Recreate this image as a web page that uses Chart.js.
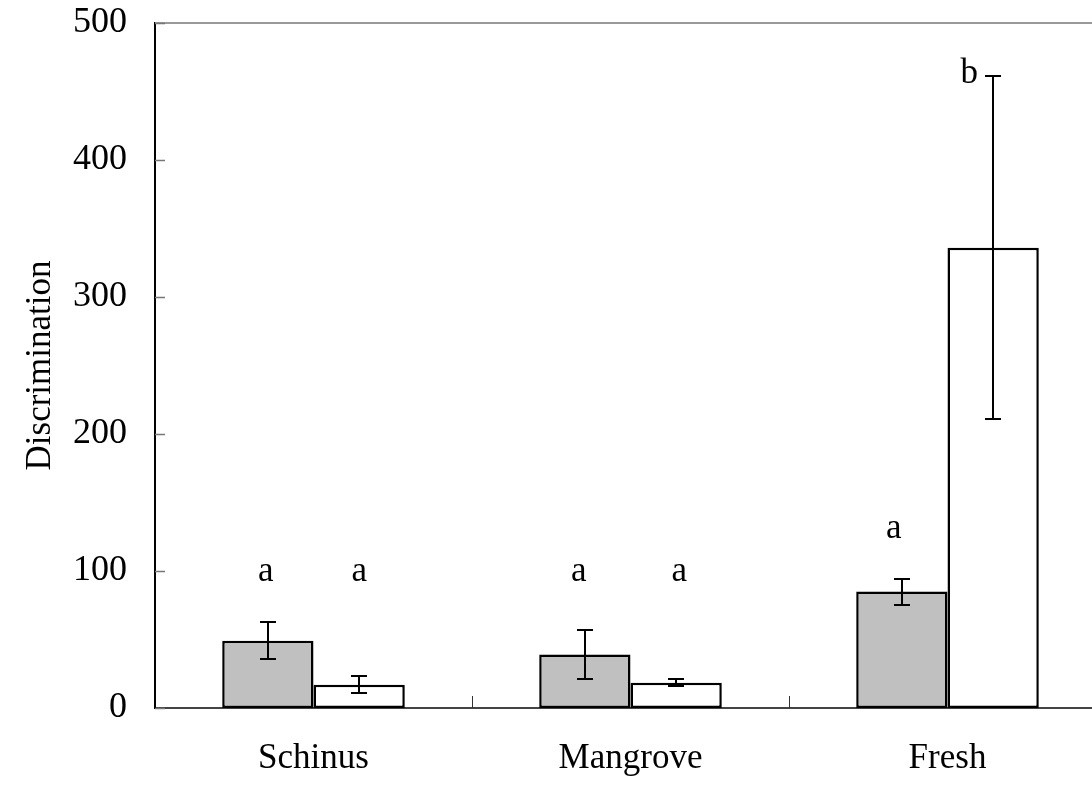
<!DOCTYPE html>
<html>
<head>
<meta charset="utf-8">
<script src="https://cdn.jsdelivr.net/npm/chart.js@4.4.0/dist/chart.umd.min.js"></script>
<style>
  html, body { margin: 0; padding: 0; background: #fff; overflow: hidden; }
  #wrap { width: 1110px; height: 786px; }
</style>
</head>
<body>
<div id="wrap"><canvas id="chart"></canvas></div>
<script>
// --- Data ---
const categories = ["Schinus", "Mangrove", "Fresh"];
const grayValues = [49, 39, 85];
const grayErrors = [13.5, 18, 9.5];
const whiteValues = [17, 18.5, 336];
const whiteErrors = [6, 2.5, 125];

// significance letters and the value level of their baseline
const grayLetters = ["a", "a", "a"];
const grayLetterY = [93, 93, 124];
const whiteLetters = ["a", "a", "b"];
const whiteLetterY = [93, 93, 456];

const yTicks = [0, 100, 200, 300, 400, 500];

const serif = "'Liberation Serif', 'Times New Roman', serif";

// --- Error bars, letters, frame ---
const extrasPlugin = {
  id: "extras",
  afterDatasetsDraw(chart) {
    const ctx = chart.ctx;
    const y = chart.scales.y;
    const x = chart.scales.x;
    const area = chart.chartArea;
    const errs = [grayErrors, whiteErrors];
    const letters = [grayLetters, whiteLetters];
    const letterY = [grayLetterY, whiteLetterY];
    const shift = [[-2, -6, -8], [0, 3, -24]];

    ctx.save();
    // error bars
    ctx.strokeStyle = "#000";
    ctx.lineWidth = 2;
    chart.data.datasets.forEach((ds, i) => {
      const meta = chart.getDatasetMeta(i);
      meta.data.forEach((bar, j) => {
        const v = ds.data[j], e = errs[i][j];
        const top = Math.round(y.getPixelForValue(v + e));
        const bot = Math.round(y.getPixelForValue(v - e));
        const bx = Math.round(bar.x);
        ctx.beginPath();
        ctx.moveTo(bx, top); ctx.lineTo(bx, bot);
        ctx.moveTo(bx - 8, top); ctx.lineTo(bx + 8, top);
        ctx.moveTo(bx - 8, bot); ctx.lineTo(bx + 8, bot);
        ctx.stroke();
      });
    });

    // letters
    ctx.fillStyle = "#000";
    ctx.font = "35px " + serif;
    ctx.textAlign = "center";
    ctx.textBaseline = "alphabetic";
    chart.data.datasets.forEach((ds, i) => {
      const meta = chart.getDatasetMeta(i);
      meta.data.forEach((bar, j) => {
        ctx.fillText(letters[i][j], bar.x + shift[i][j], y.getPixelForValue(letterY[i][j]));
      });
    });

    // top frame line
    ctx.strokeStyle = "#999";
    ctx.lineWidth = 2;
    ctx.beginPath();
    ctx.moveTo(area.left, area.top);
    ctx.lineTo(area.right + 10, area.top);
    ctx.stroke();

    // inward y ticks
    ctx.strokeStyle = "#777";
    ctx.lineWidth = 1.5;
    yTicks.forEach(t => {
      const py = Math.round(y.getPixelForValue(t)) + 0.5;
      ctx.beginPath();
      ctx.moveTo(area.left, py);
      ctx.lineTo(area.left + 10, py);
      ctx.stroke();
    });

    // category boundary ticks
    ctx.strokeStyle = "#333";
    ctx.lineWidth = 1;
    for (let k = 1; k < categories.length; k++) {
      const px = Math.round((x.getPixelForValue(k - 1) + x.getPixelForValue(k)) / 2) + 0.5;
      ctx.beginPath();
      ctx.moveTo(px, area.bottom);
      ctx.lineTo(px, area.bottom - 12);
      ctx.stroke();
    }
    ctx.restore();
  }
};

new Chart(document.getElementById("chart"), {
  type: "bar",
  data: {
    labels: categories,
    datasets: [
      {
        data: grayValues,
        backgroundColor: "#c0c0c0",
        borderColor: "#000",
        borderWidth: 2.5,
        borderSkipped: false
      },
      {
        data: whiteValues,
        backgroundColor: "#fff",
        borderColor: "#000",
        borderWidth: 2.5,
        borderSkipped: false
      }
    ]
  },
  options: {
    responsive: true,
    maintainAspectRatio: false,
    animation: false,
    layout: { padding: { top: 23, right: 4, left: 0, bottom: 0 } },
    plugins: {
      legend: { display: false },
      tooltip: { enabled: false }
    },
    datasets: {
      bar: { categoryPercentage: 0.576, barPercentage: 1 }
    },
    scales: {
      x: {
        grid: { display: false, drawTicks: false },
        border: { display: true, color: "#444", width: 2 },
        ticks: {
          color: "#000",
          padding: 30,
          font: { family: serif, size: 35 }
        },
        afterFit(scale) {
          scale.height = 78;
          scale.paddingLeft = 0;
          scale.paddingRight = 0;
        }
      },
      y: {
        min: 0,
        max: 500,
        grid: { display: false, drawTicks: false },
        border: { display: true, color: "#000", width: 2 },
        ticks: {
          color: "#000",
          stepSize: 100,
          padding: 28,
          font: { family: serif, size: 36 }
        },
        title: {
          display: true,
          text: "Discrimination",
          color: "#000",
          padding: { top: 20, bottom: 0 },
          font: { family: serif, size: 35 }
        },
        afterFit(scale) {
          scale.width = 155;
          scale.paddingTop = 0;
          scale.paddingBottom = 0;
        }
      }
    }
  },
  plugins: [extrasPlugin]
});
</script>
</body>
</html>
